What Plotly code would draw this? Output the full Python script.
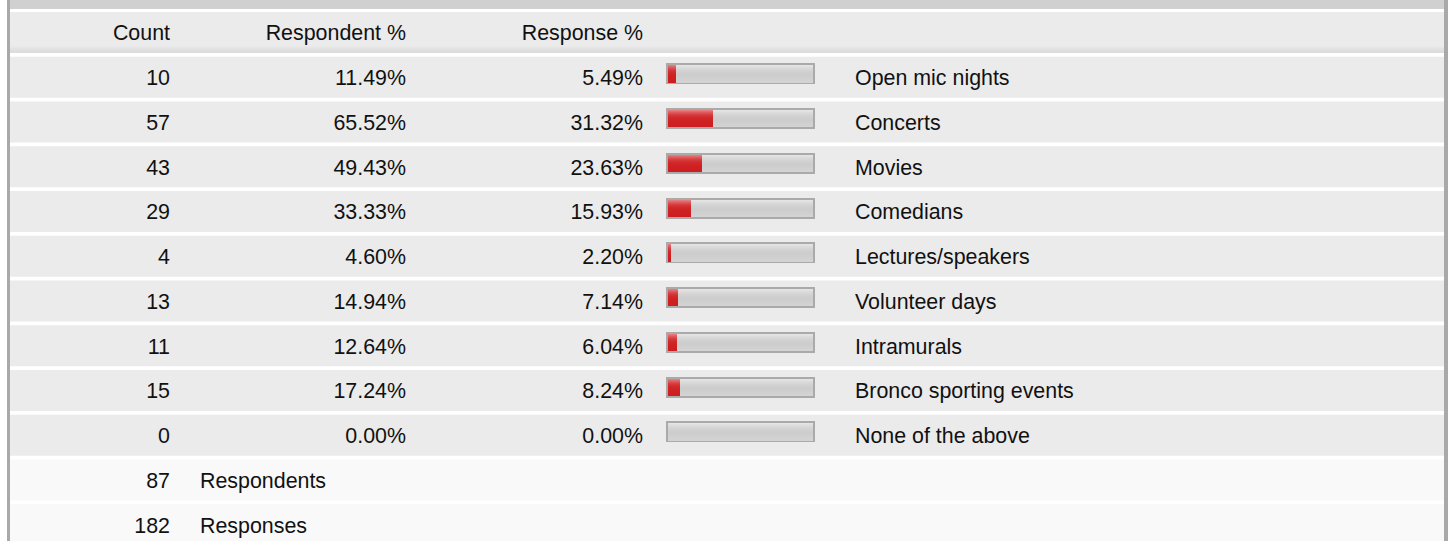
import plotly.graph_objects as go

# ---------------- data ----------------
categories = ["Open mic nights", "Concerts", "Movies", "Comedians", "Lectures/speakers",
              "Volunteer days", "Intramurals", "Bronco sporting events", "None of the above"]
counts = [10, 57, 43, 29, 4, 13, 11, 15, 0]
respondent_pct = [11.49, 65.52, 49.43, 33.33, 4.60, 14.94, 12.64, 17.24, 0.00]
response_pct = [5.49, 31.32, 23.63, 15.93, 2.20, 7.14, 6.04, 8.24, 0.00]
header_labels = ["Count", "Respondent %", "Response %"]
summary_counts = [87, 182]
summary_labels = ["Respondents", "Responses"]

# ---------------- layout geometry ----------------
W, H = 1448, 541
PITCH = 44.75          # px per row
C0 = 32.5              # px centre of header row
ROW_H = 41.0
TXT_DY = 2.5           # text baseline nudge (px)


def px2row(p):
    return (p - C0) / PITCH


def dpx(p):
    return p / PITCH


n = len(categories)
data_rows = list(range(1, n + 1))
sum_rows = [n + 1, n + 2]

X_COUNT, X_RESP, X_RSPN, X_LABEL, X_SUMLABEL = 170, 406, 643, 855, 200
BAR_L, BAR_R = 666, 815
INNER_L, INNER_R = 668, 813
INNER_W = INNER_R - INNER_L

FONT = dict(family="Liberation Sans, Arial, sans-serif", size=21.4, color="#111111")

fig = go.Figure()
shapes = []

# page decorations
shapes.append(dict(type="rect", xref="x", yref="paper", x0=7, x1=10, y0=0, y1=1,
                   fillcolor="#a9a9a9", line_width=0, layer="below"))
shapes.append(dict(type="rect", xref="x", yref="paper", x0=1444, x1=1448, y0=0, y1=1,
                   fillcolor="#a9a9a9", line_width=0, layer="below"))
shapes.append(dict(type="rect", xref="x", yref="y", x0=10, x1=1444,
                   y0=px2row(-2), y1=px2row(9), fillcolor="#d0d0d0", line_width=0, layer="below"))

# row backgrounds
for k in [0] + data_rows + sum_rows:
    col = "#ebebeb" if k <= n else "#f9f9f9"
    shapes.append(dict(type="rect", xref="x", yref="y", x0=10, x1=1444,
                       y0=k - dpx(ROW_H / 2), y1=k + dpx(ROW_H / 2),
                       fillcolor=col, line_width=0, layer="below"))
# header bottom gradient
hdr_grad = ["#e9e9e9", "#e6e6e6", "#e3e3e3", "#e1e1e1", "#dfdfdf", "#dddddd", "#dcdcdc"]
for i, c in enumerate(hdr_grad):
    shapes.append(dict(type="rect", xref="x", yref="y", x0=10, x1=1444,
                       y0=dpx(ROW_H / 2 - 7 + i), y1=dpx(ROW_H / 2),
                       fillcolor=c, line_width=0, layer="below"))

# ---------------- bars ----------------
# outer frame
fig.add_trace(go.Bar(orientation="h", y=data_rows, x=[BAR_R - BAR_L - 2] * n, base=BAR_L + 1,
                     offset=-dpx(13), width=dpx(19),
                     marker=dict(color="#d2d2d2", line=dict(color="#aaaaaa", width=2)),
                     hoverinfo="skip", showlegend=False))
# gray inner gradient
gray_grad = ["#e4e4e4", "#e0e0e0", "#dcdcdc", "#d9d9d9", "#d6d6d6", "#d3d3d3", "#d1d1d1",
             "#cfcfcf", "#cecece", "#cdcdcd", "#cdcdcd", "#cecece", "#cfcfcf", "#d0d0d0",
             "#d1d1d1", "#d2d2d2", "#d3d3d3"]
red_grad = ["#e67a7a", "#e26a6a", "#de5a5c", "#da4c4e", "#d74042", "#d53638", "#d32f31",
            "#d22a2c", "#d12628", "#d02426", "#cf2225", "#cf2124", "#ce2023", "#ce2023",
            "#cd1f22", "#cd1f22", "#cc1e21"]
nstr = len(gray_grad)
for i in range(nstr):
    top = -12 + i
    fig.add_trace(go.Bar(orientation="h", y=data_rows, x=[INNER_W] * n, base=INNER_L,
                         offset=dpx(top), width=dpx(17 - i),
                         marker=dict(color=gray_grad[i], line_width=0),
                         hoverinfo="skip", showlegend=False))
for i in range(nstr):
    top = -12 + i
    fig.add_trace(go.Bar(orientation="h", y=data_rows,
                         x=[p / 100 * INNER_W for p in response_pct], base=INNER_L,
                         offset=dpx(top), width=dpx(17 - i),
                         marker=dict(color=red_grad[i], line_width=0),
                         hoverinfo="skip", showlegend=False))

# ---------------- text ----------------
def txt(xs, ys, texts, pos):
    fig.add_trace(go.Scatter(x=xs, y=[v + dpx(TXT_DY) for v in ys], text=texts, mode="text",
                             textposition=pos, textfont=FONT, hoverinfo="skip",
                             showlegend=False, cliponaxis=False))

txt([X_COUNT, X_RESP, X_RSPN], [0, 0, 0], header_labels, "middle left")
txt([X_COUNT] * n, data_rows, [str(c) for c in counts], "middle left")
txt([X_RESP] * n, data_rows, [f"{p:.2f}%" for p in respondent_pct], "middle left")
txt([X_RSPN] * n, data_rows, [f"{p:.2f}%" for p in response_pct], "middle left")
txt([X_LABEL] * n, data_rows, categories, "middle right")
txt([X_COUNT] * 2, sum_rows, [str(c) for c in summary_counts], "middle left")
txt([X_SUMLABEL] * 2, sum_rows, summary_labels, "middle right")

fig.update_layout(
    width=W, height=H, margin=dict(l=0, r=0, t=0, b=0),
    paper_bgcolor="white", plot_bgcolor="white",
    barmode="overlay", bargap=0, shapes=shapes, hovermode=False,
    xaxis=dict(range=[0, W], visible=False, fixedrange=True),
    yaxis=dict(range=[px2row(H), px2row(0)], visible=False, fixedrange=True),
)
fig.write_html("out.html", config={"displayModeBar": False},
               post_script="document.body.style.margin='0';document.body.style.overflow='hidden';")
